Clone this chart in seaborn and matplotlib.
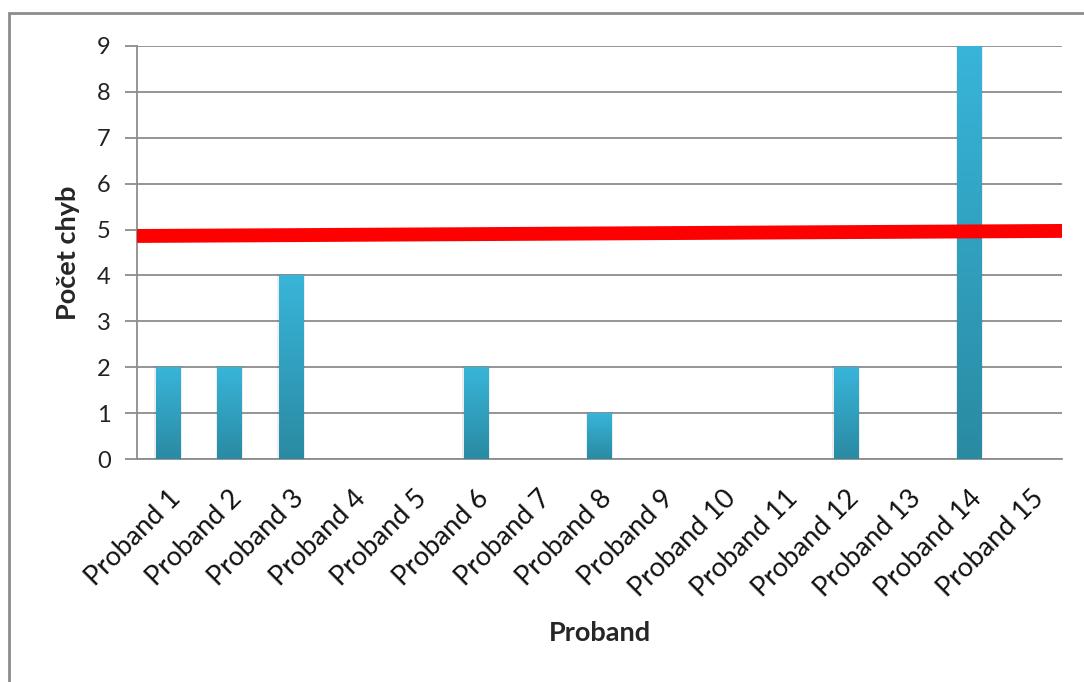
import numpy as np
import pandas as pd
import matplotlib
matplotlib.use("Agg")
import matplotlib.pyplot as plt
import seaborn as sns
from matplotlib.colors import LinearSegmentedColormap
from matplotlib.patches import Rectangle
from matplotlib.transforms import ScaledTranslation

# Data
probands = [f"Proband {i}" for i in range(1, 16)]
errors = [2, 2, 4, 0, 0, 2, 0, 1, 0, 0, 0, 2, 0, 9, 0]
limit_start, limit_end = 4.86, 4.97
y_ticks = list(range(0, 10))

sns.set_theme(style="white")
plt.rcParams["font.family"] = ["Lato", "DejaVu Sans"]

fig = plt.figure(figsize=(10.84, 6.82), dpi=100)
ax = fig.add_axes([137 / 1084, 1 - 459 / 682, (1062 - 137) / 1084, (459 - 46) / 682])

df = pd.DataFrame({"Proband": probands, "Počet chyb": errors})
sns.barplot(data=df, x="Proband", y="Počet chyb", ax=ax, width=0.39,
            color="#31A7C8", edgecolor="none", zorder=3)

# Vertical gradient fill inside every bar
grad = LinearSegmentedColormap.from_list("bar", ["#2A8AA2", "#38B5DA"])
for p in ax.patches:
    x0, y0 = p.get_x(), p.get_y()
    w, h = p.get_width(), p.get_height()
    if h <= 0:
        continue
    # soft shadow beside the bar
    ax.add_patch(Rectangle((x0 - 0.03, y0), w + 0.06, h + 0.03, facecolor="#000000",
                           alpha=0.07, edgecolor="none", zorder=2.5))
    im = ax.imshow(np.linspace(0, 1, 256).reshape(-1, 1), cmap=grad, origin="lower",
                   extent=(x0, x0 + w, y0, y0 + h), aspect="auto", zorder=3.5)
    im.set_clip_path(p)

# Threshold line
ax.plot([-0.5, 14.5], [limit_start, limit_end], color="#FF0000", lw=10,
        solid_capstyle="butt", zorder=5)

ax.set_xlim(-0.5, 14.5)
ax.set_ylim(0, 9)
ax.set_yticks(y_ticks)
ax.set_yticklabels([str(v) for v in y_ticks], fontsize=17, color="#222222")
ax.yaxis.grid(True, color="#8C8C8C", lw=1.3, zorder=0)
ax.set_axisbelow(True)

ax.set_xticks(range(len(probands)))
ax.set_xticklabels(probands, rotation=45, ha="right", rotation_mode="anchor",
                   fontsize=19.5, color="#111111")
shift = ScaledTranslation(6 / 100, 0, fig.dpi_scale_trans)
for lbl in ax.get_xticklabels():
    lbl.set_transform(lbl.get_transform() + shift)
ax.set_xticks(np.arange(-0.5, 15, 1.0), minor=True)
ax.tick_params(axis="x", which="major", length=0, pad=19)
ax.tick_params(axis="x", which="minor", length=9, width=1.3, color="#8C8C8C")
ax.tick_params(axis="y", which="major", length=9, width=1.3, color="#8C8C8C",
               left=True, pad=10)

for side in ("top", "right"):
    ax.spines[side].set_visible(False)
for side in ("left", "bottom"):
    ax.spines[side].set_color("#8C8C8C")
    ax.spines[side].set_linewidth(1.3)

ax.set_xlabel("Proband", fontsize=19.5, fontweight="bold")
ax.set_ylabel("Počet chyb", fontsize=19.5, fontweight="bold")
ax.xaxis.set_label_coords(0.5, -(621 - 459) / 413)
ax.yaxis.set_label_coords(-(137 - 80) / 925, 0.5)

# Chart border
fig.patches.append(Rectangle((9 / 1084, -0.1), 1.2, 1 - 13 / 682 + 0.1,
                             transform=fig.transFigure, fill=False,
                             edgecolor="#8C8C8C", lw=2))

fig.savefig("out.png", dpi=100)
